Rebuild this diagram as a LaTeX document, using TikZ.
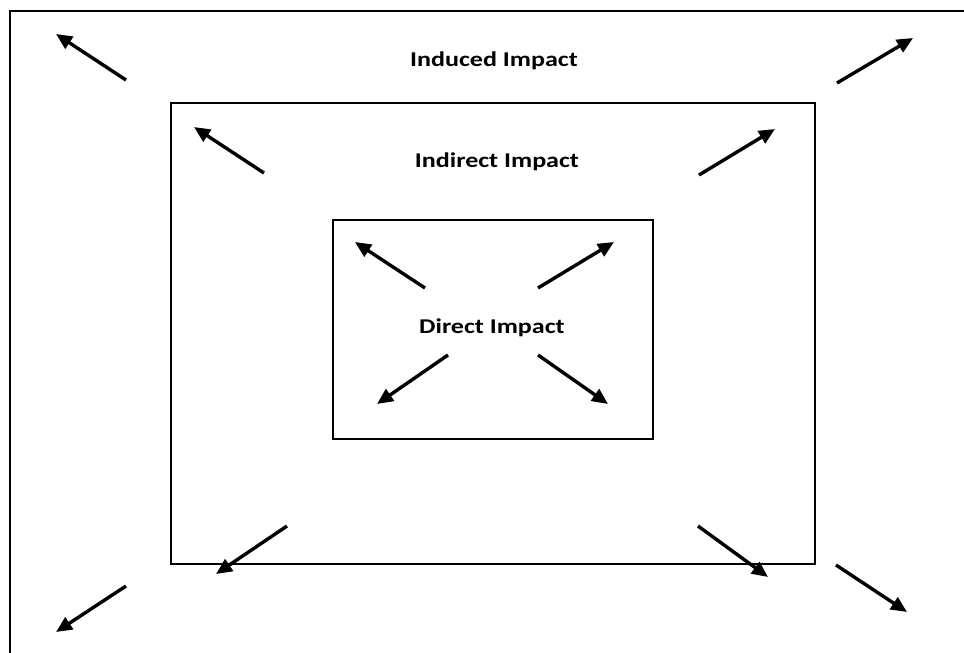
\documentclass[tikz,border=0pt]{standalone}
\usepackage{fontspec}
\setmainfont{Carlito}
\usetikzlibrary{arrows.meta}
\begin{document}
\begin{tikzpicture}[x=1pt,y=-1pt,
  frame/.style={draw=black,line width=2.6pt},
  arr/.style={line width=3.4pt,-{Triangle[length=16pt,width=14pt]}},
  lbl/.style={font=\fontsize{21}{25}\selectfont\bfseries,inner sep=0pt,xscale=1.24,transform shape}]
\useasboundingbox (0,0) rectangle (964,653);
% outer frame (partially cropped)
\coordinate (oa) at (10,653);
\coordinate (ob) at (10,11);
\coordinate (oc) at (964,11);
\draw[frame] (oa) -- (ob) -- (oc);
% middle and inner frames
\node[frame,minimum width=644pt,minimum height=461pt,inner sep=0pt] (mid) at (493,333.5) {};
\node[frame,minimum width=320pt,minimum height=219pt,inner sep=0pt] (inn) at (493,329.5) {};
% labels
\node[lbl] (induced) at (494,61) {Induced Impact};
\node[lbl] (indirect) at (497,162) {Indirect Impact};
\node[lbl] (direct) at (492,328) {Direct Impact};
% outer arrows
\coordinate (o1t) at (126,80);  \coordinate (o1h) at (56,34);
\coordinate (o2t) at (837,83);  \coordinate (o2h) at (913,38);
\coordinate (o3t) at (126,586); \coordinate (o3h) at (56,632);
\coordinate (o4t) at (836,565); \coordinate (o4h) at (907,612);
\draw[arr] (o1t) -- (o1h);
\draw[arr] (o2t) -- (o2h);
\draw[arr] (o3t) -- (o3h);
\draw[arr] (o4t) -- (o4h);
% middle arrows
\coordinate (m1t) at (264,173); \coordinate (m1h) at (194,127);
\coordinate (m2t) at (699,175); \coordinate (m2h) at (775,129);
\coordinate (m3t) at (287,526); \coordinate (m3h) at (216,574);
\coordinate (m4t) at (698,526); \coordinate (m4h) at (768,577);
\draw[arr] (m1t) -- (m1h);
\draw[arr] (m2t) -- (m2h);
\draw[arr] (m3t) -- (m3h);
\draw[arr] (m4t) -- (m4h);
% inner arrows
\coordinate (i1t) at (425,288); \coordinate (i1h) at (355,242);
\coordinate (i2t) at (538,288); \coordinate (i2h) at (614,242);
\coordinate (i3t) at (448,355); \coordinate (i3h) at (377,404);
\coordinate (i4t) at (538,355); \coordinate (i4h) at (608,404);
\draw[arr] (i1t) -- (i1h);
\draw[arr] (i2t) -- (i2h);
\draw[arr] (i3t) -- (i3h);
\draw[arr] (i4t) -- (i4h);
\end{tikzpicture}
\end{document}
